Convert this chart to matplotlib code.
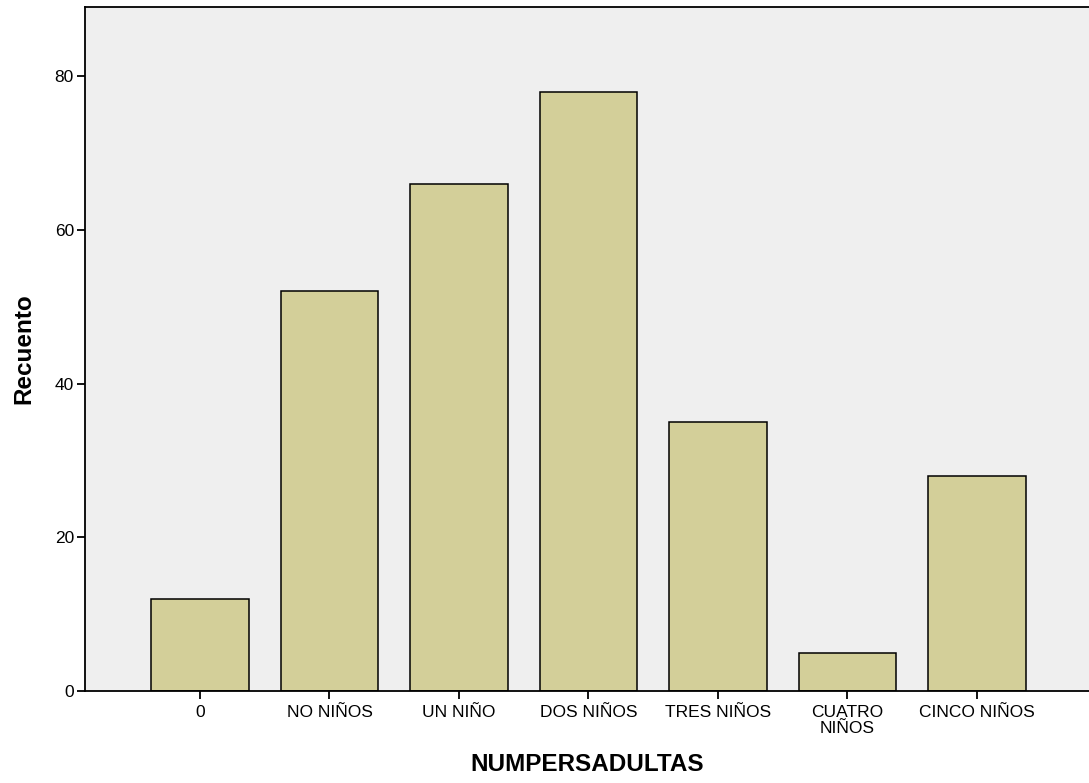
import matplotlib.pyplot as plt

plt.rcParams['font.family'] = ['Liberation Sans', 'DejaVu Sans']

categories = ["0", "NO NIÑOS", "UN NIÑO", "DOS NIÑOS", "TRES NIÑOS", "CUATRO\nNIÑOS", "CINCO NIÑOS"]
counts = [12, 52, 66, 78, 35, 5, 28]
yticks = [0, 20, 40, 60, 80]

fig = plt.figure(figsize=(10.89, 7.83), dpi=100)
ax = fig.add_axes([85/1089, 92/783, 1 - 85/1089, (691-7)/783])
ax.set_facecolor("#efefef")

x = range(len(categories))
ax.bar(x, counts, width=0.75, color="#d3cf99", edgecolor="black", linewidth=1.1, zorder=2)

ax.set_xlim(-0.888, 6.865)
ax.set_ylim(0, 89)
ax.set_xticks(list(x))
ax.set_xticklabels(categories, fontsize=12.5, linespacing=1.1)
ax.set_yticks(yticks)
ax.tick_params(axis="both", length=6, width=1.3, labelsize=12.5, pad=4)
ax.tick_params(axis="y", pad=2)
for s in ["left", "bottom", "top"]:
    ax.spines[s].set_linewidth(1.3)
ax.spines["right"].set_visible(False)

ax.set_xlabel("NUMPERSADULTAS", fontsize=17.5, fontweight="bold", labelpad=12)
ax.set_ylabel("Recuento", fontsize=17.5, fontweight="bold", labelpad=14)

fig.savefig("out.png", dpi=100)
